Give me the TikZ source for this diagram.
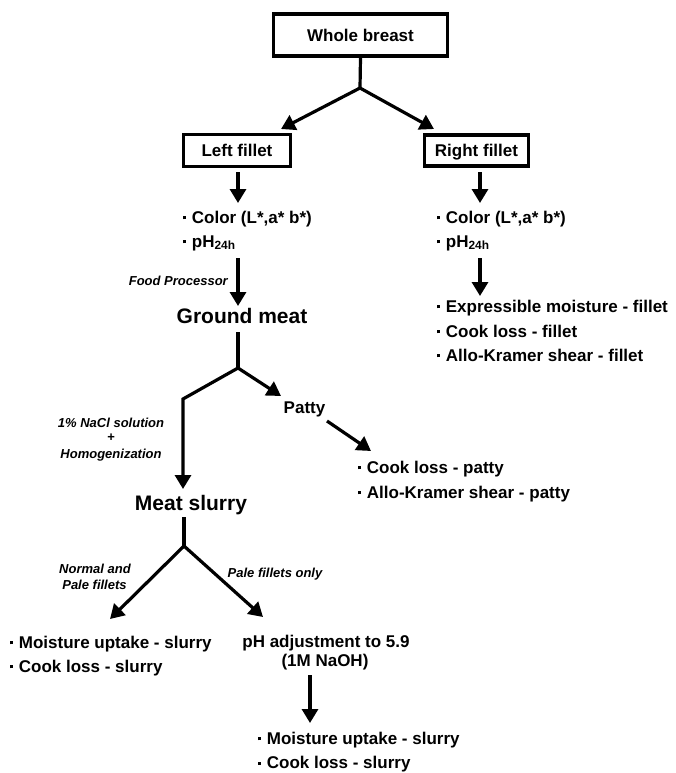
\documentclass[tikz,border=0pt]{standalone}
\usepackage{fontspec}
\setmainfont{Liberation Sans}
\usetikzlibrary{arrows.meta}
\newcommand\bul{\raisebox{3.6pt}{\rule{3.2pt}{3.2pt}}\hspace{5.5pt}}
\begin{document}
\begin{tikzpicture}[x=1pt,y=-1pt,
  ln/.style={line width=3.2pt},
  arr/.style={line width=3.2pt, -{Triangle[length=14pt,width=16pt]}},
  box/.style={draw, line width=3.2pt, inner sep=0pt, text height=12.4pt, text depth=0pt,
    font=\fontsize{17}{20}\selectfont\bfseries},
  txt/.style={inner sep=0pt, font=\fontsize{17}{20}\selectfont\bfseries},
  item/.style={txt, anchor=base west},
  big/.style={inner sep=0pt, anchor=base, font=\fontsize{21}{25}\selectfont\bfseries},
  lab/.style={inner sep=0pt, font=\fontsize{13}{15}\selectfont\bfseries\itshape},
]
\useasboundingbox (0,0) rectangle (676,773);

% boxes
\node[box, minimum width=174pt, minimum height=42pt] (wb) at (360.5,35) {Whole breast};
\node[box, minimum width=107pt, minimum height=32pt] (lf) at (237,150.5) {Left fillet};
\node[box, minimum width=104pt, minimum height=31pt] (rf) at (476.5,150.5) {Right fillet};

% left fillet measurements
\node[item] (lc) at (183,223) {\bul Color (L*,a* b*)};
\node[item] (lp) at (183,247) {\bul pH\textsubscript{24h}};

% right fillet measurements
\node[item] (rc) at (437,223) {\bul Color (L*,a* b*)};
\node[item] (rp) at (437,247) {\bul pH\textsubscript{24h}};
\node[item] (re) at (437,312) {\bul Expressible moisture - fillet};
\node[item] (rk) at (437,337) {\bul Cook loss - fillet};
\node[item] (ra) at (437,361) {\bul Allo-Kramer shear - fillet};

% ground meat
\node[lab, anchor=base east] (fp) at (228,285) {Food Processor};
\node[big] (gm) at (242,323) {Ground meat};
\node[txt, anchor=base] (pt) at (304.5,413) {Patty};
\node[item] (pc) at (358,473) {\bul Cook loss - patty};
\node[item] (pa) at (358,498) {\bul Allo-Kramer shear - patty};

\node[lab, anchor=base] (na) at (111,427) {1\% NaCl solution};
\node[lab, anchor=base] (pl) at (111,441) {+};
\node[lab, anchor=base] (ho) at (111,458) {Homogenization};

% meat slurry
\node[big] (ms) at (191,510) {Meat slurry};
\node[lab, anchor=base] (nl) at (95,573) {Normal and};
\node[lab, anchor=base] (nl2) at (94.5,589) {Pale fillets};
\node[lab, anchor=base] (po) at (275,577) {Pale fillets only};

\node[item] (bm) at (10,648) {\bul Moisture uptake - slurry};
\node[item] (bk) at (10,672) {\bul Cook loss - slurry};

\node[txt, anchor=base] (ph) at (326,647) {pH adjustment to 5.9};
\node[txt, anchor=base] (ph2) at (325,666) {(1M NaOH)};

\node[item] (qm) at (258,744) {\bul Moisture uptake - slurry};
\node[item] (qk) at (258,768.5) {\bul Cook loss - slurry};

% coordinates
\coordinate (j1) at (360,88);
\coordinate (t1) at (281,129);
\coordinate (t2) at (434,129);
\coordinate (a1) at (238,172);  \coordinate (b1) at (238,203);
\coordinate (a2) at (480,172);  \coordinate (b2) at (480,203);
\coordinate (a3) at (480,258);  \coordinate (b3) at (480,296);
\coordinate (a4) at (238,258);  \coordinate (b4) at (238,306);
\coordinate (a5) at (238,332);  \coordinate (j2) at (238,368);
\coordinate (k2) at (183,399);  \coordinate (b5) at (183,489);
\coordinate (b6) at (281,396);
\coordinate (a7) at (327,421);  \coordinate (b7) at (371,451);
\coordinate (a8) at (184,517);  \coordinate (j3) at (184,546);
\coordinate (b8) at (110,619);  \coordinate (b9) at (263,617);
\coordinate (a10) at (310,675); \coordinate (b10) at (310,723);

% connectors
\draw[ln] (wb.south) -- (j1);
\draw[arr] (j1) -- (t1);
\draw[arr] (j1) -- (t2);
\draw[arr] (a1) -- (b1);
\draw[arr] (a2) -- (b2);
\draw[arr] (a3) -- (b3);
\draw[arr] (a4) -- (b4);
\draw[ln] (a5) -- (j2);
\draw[arr] (j2) -- (k2) -- (b5);
\draw[arr] (j2) -- (b6);
\draw[arr] (a7) -- (b7);
\draw[ln] (a8) -- (j3);
\draw[arr] (j3) -- (b8);
\draw[arr] (j3) -- (b9);
\draw[arr] (a10) -- (b10);
\end{tikzpicture}
\end{document}
